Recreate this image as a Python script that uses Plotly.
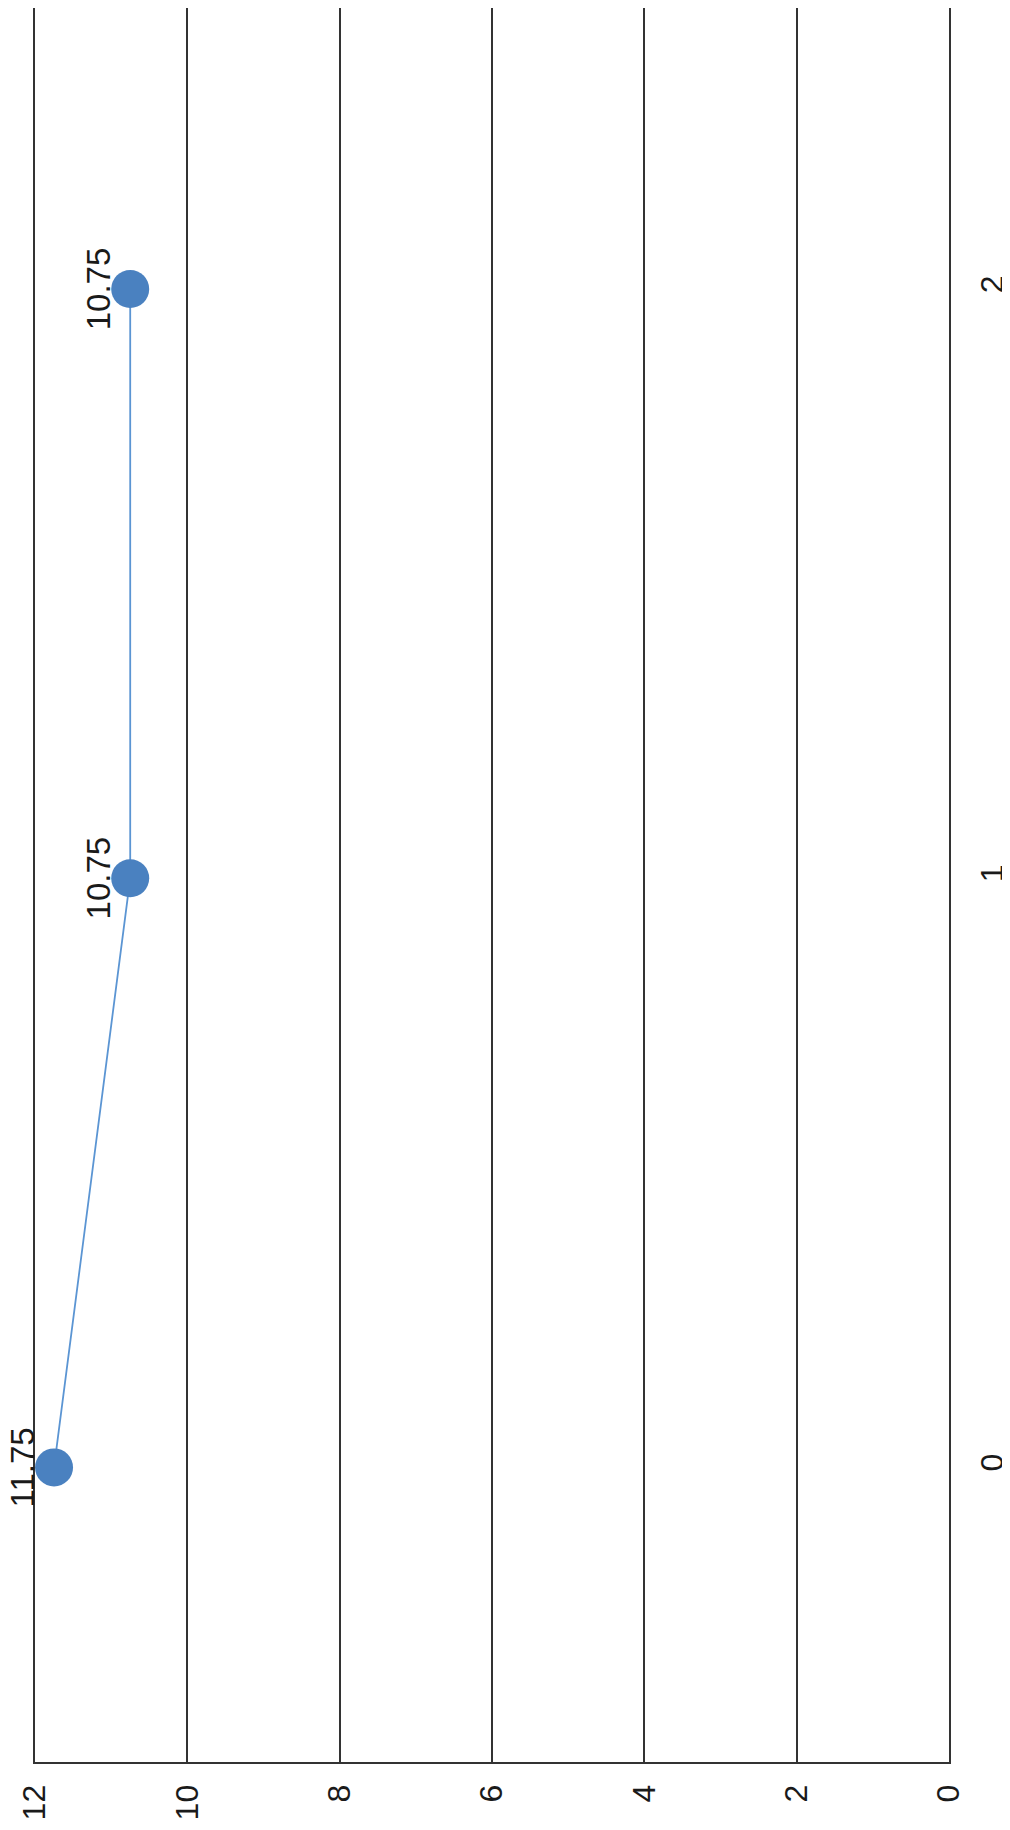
import plotly.graph_objects as go

categories = [0, 1, 2]
values = [11.75, 10.75, 10.75]
value_ticks = [0, 2, 4, 6, 8, 10, 12]
value_tick_labels = ["0", "2", "4", "6", "8", "10", "12"]
category_tick_labels = ["0", "1", "2"]
point_labels = ["11.75", "10.75", "10.75"]

fig = go.Figure()
fig.add_trace(go.Scatter(
    x=values, y=categories, mode="lines+markers",
    line=dict(color="#5b95d3", width=1.8),
    marker=dict(color="#4a81c0", size=38),
    showlegend=False, hoverinfo="skip",
))

for v, c, t in zip(values, categories, point_labels):
    fig.add_annotation(
        x=v, y=c, text=t, showarrow=False, textangle=-90,
        xanchor="center", yanchor="middle", xshift=-32,
        font=dict(family="Liberation Sans, Arial", size=33, color="#1a1a1a"),
    )

fig.update_layout(
    width=1002, height=1822,
    margin=dict(l=27, r=55, t=0, b=68),
    paper_bgcolor="white", plot_bgcolor="white",
    font=dict(family="Liberation Sans, Arial", size=32, color="#1a1a1a"),
)
fig.update_xaxes(
    range=[12, 0], tickvals=value_ticks, ticktext=value_tick_labels,
    tickangle=-90, showgrid=True, gridcolor="#333333", gridwidth=2,
    zeroline=False, showline=True, linecolor="#333333", linewidth=2,
    ticks="outside", ticklen=8, tickcolor="rgba(0,0,0,0)",
    tickfont=dict(size=32),
)
fig.update_yaxes(
    range=[-0.5, 2.477], tickvals=categories, ticktext=category_tick_labels,
    side="right", tickangle=-90, showgrid=False, zeroline=False,
    showline=True, mirror=True, linecolor="#333333", linewidth=2,
    ticks="outside", ticklen=14, tickcolor="rgba(0,0,0,0)",
    tickfont=dict(size=32),
)

fig.write_html("out.html")
